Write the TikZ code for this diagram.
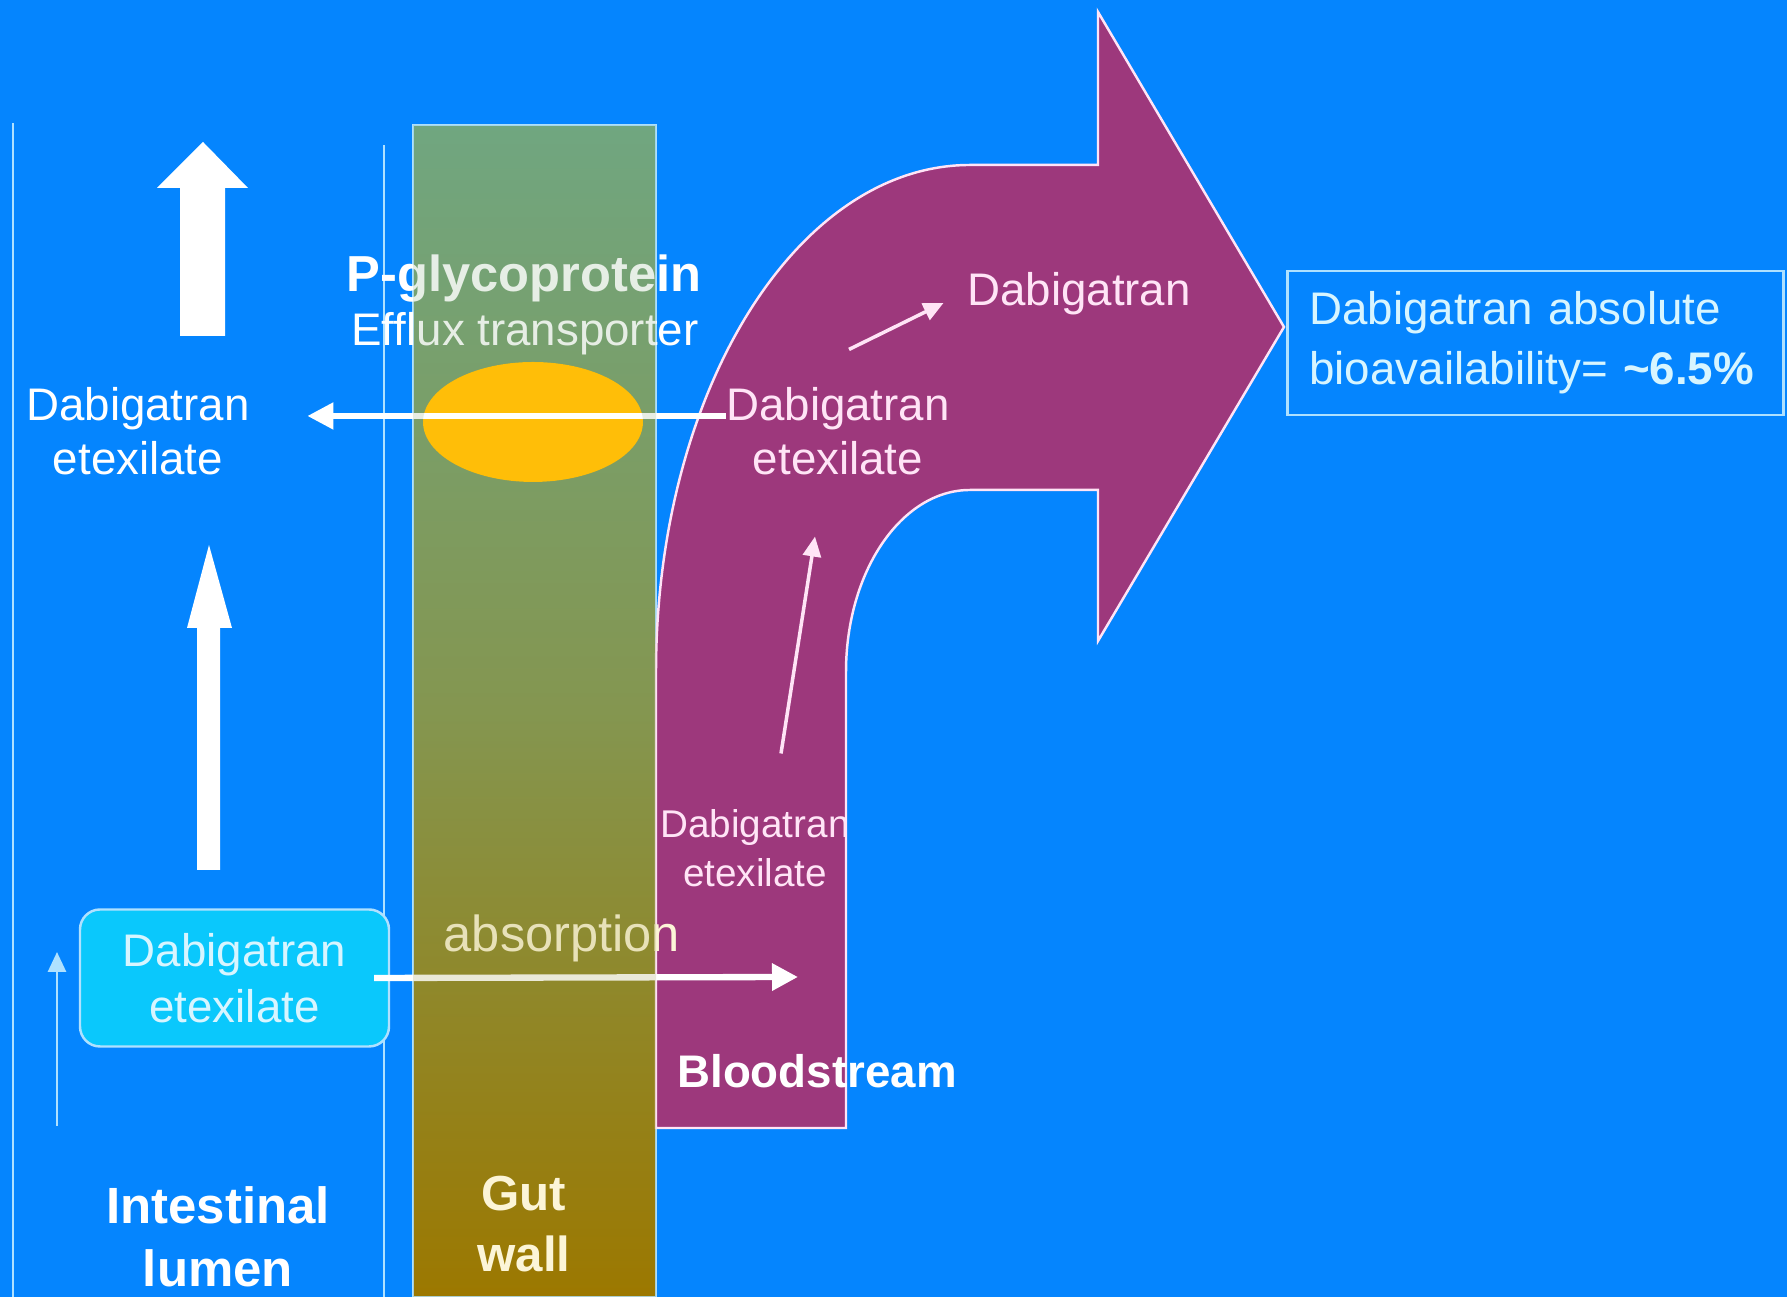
\documentclass[tikz,border=0pt]{standalone}
\usepackage{fontspec}
\setmainfont{Liberation Sans}
\usetikzlibrary{arrows.meta}

\definecolor{bgblue}{RGB}{5,133,254}
\definecolor{gutTop}{RGB}{112,166,128}
\definecolor{gutMid}{RGB}{132,150,80}
\definecolor{gutBot}{RGB}{156,120,0}
\definecolor{blood}{RGB}{157,56,124}
\definecolor{pgpOrange}{RGB}{255,190,8}
\definecolor{lumCyan}{RGB}{10,200,252}
\definecolor{edge}{RGB}{175,225,255}
\definecolor{pinkw}{RGB}{255,228,246}
\definecolor{lumtext}{RGB}{215,245,255}
\definecolor{cream}{RGB}{252,245,215}

\tikzset{
  lbl/.style={text=white, align=center, inner sep=0pt, font=\fontsize{13}{15.4}\selectfont},
  heading/.style={text=white, align=center, inner sep=0pt, font=\bfseries\fontsize{14.4}{17.8}\selectfont},
  small/.style={text=pinkw, align=center, inner sep=0pt, font=\fontsize{11}{14}\selectfont},
  thickarr/.style={white, line width=1.8pt, -{Triangle[length=2.6mm,width=2.6mm]}},
  thinarr/.style={pinkw, line width=1pt, -{Triangle[length=2mm,width=1.8mm]}}
}

\begin{document}
\begin{tikzpicture}
    % Background
    \fill[bgblue] (0,0) rectangle (17.87,12.97);
    \useasboundingbox (0,0) rectangle (17.87,12.97);

    % Lumen borders
    \draw[edge, line width=0.6pt] (0.13,0) -- (0.13,11.74);
    \draw[edge, line width=0.6pt] (3.84,0) -- (3.84,11.52);

    % Gut wall
    \draw[edge, line width=0.6pt, top color=gutTop, bottom color=gutBot, middle color=gutMid] (4.13,0) rectangle (6.56,11.72);

    % Bloodstream arrow
    \filldraw[fill=blood, draw=pinkw, line width=0.7pt] (6.56,1.69) -- (6.56,6.25)
        arc[start angle=180, end angle=90, x radius=3.14, y radius=5.07]
        -- (10.98,11.32) -- (10.98,12.85) -- (12.84,9.70) -- (10.98,6.56) -- (10.98,8.07) -- (9.70,8.07)
        arc[start angle=90, end angle=180, x radius=1.24, y radius=1.82]
        -- (8.46,1.69) -- cycle;

    % P-gp
    \fill[pgpOrange] (5.33,8.75) ellipse [x radius=1.10, y radius=0.60];

    % Big arrows in the lumen
    \fill[white] (1.80,9.61) -- (1.80,11.09) -- (1.57,11.09) -- (2.03,11.55) -- (2.48,11.09) -- (2.25,11.09) -- (2.25,9.61) -- cycle;
    \fill[white] (1.97,4.27) -- (1.97,6.69) -- (1.87,6.69) -- (2.09,7.52) -- (2.32,6.69) -- (2.20,6.69) -- (2.20,4.27) -- cycle;
    \draw[thinarr, edge, line width=0.8pt] (0.57,1.71) -- (0.57,3.45);

    % Labels
    \node[heading, font=\bfseries\fontsize{14.4}{17}\selectfont] (pgp) at (5.24,10.18) {P-glycoprotein};
    \node[lbl] (efflux) at (5.25,9.63) {Efflux transporter};
    \node[lbl] (dbeL) at (1.38,8.66) {Dabigatran\\etexilate};
    \node[lbl, text=pinkw] (dbeR) at (8.38,8.66) {Dabigatran\\etexilate};
    \node[lbl, text=pinkw] (dbg) at (10.79,10.03) {Dabigatran};
    \node[small] (dbeB) at (7.55,4.49) {Dabigatran\\etexilate};
    \node[lbl, font=\fontsize{13}{15.9}\selectfont, text=lumtext, fill=lumCyan, draw=edge, line width=0.7pt,
          rounded corners=0.2cm, minimum width=3.09cm, minimum height=1.37cm] (lumbox) at (2.345,3.19) {Dabigatran\\etexilate};
    \node[lbl, font=\fontsize{14.4}{17}\selectfont, text=cream] (absorb) at (5.62,3.59) {absorption};
    \node[heading, font=\bfseries\fontsize{13}{15}\selectfont] (blood) at (8.17,2.26) {Bloodstream};
    \node[heading, font=\bfseries\fontsize{14.5}{17.9}\selectfont] (lumen) at (2.18,0.60) {Intestinal\\lumen};
    \node[lbl, font=\fontsize{13}{17}\selectfont, text=lumtext, align=left, anchor=west, draw=edge, line width=0.8pt,
          inner xsep=0.22cm, text width=4.52cm, minimum height=1.44cm] (bio) at (12.86,9.54)
          {Dabigatran absolute\\bioavailability= \textbf{\textasciitilde6.5\%}};

    % Connectors
    \draw[thickarr, line width=1.5pt] ([yshift=1.5mm]dbeR.west) -- ([xshift=5.7mm,yshift=1.5mm]dbeL.east);
    \coordinate (abstip) at (7.98,3.20);
    \draw[thickarr] ([xshift=-1.6mm]lumbox.east) -- (abstip);
    \draw[thinarr] ([xshift=2.6mm,yshift=5.5mm]dbeB.north) -- ([xshift=-2.3mm,yshift=-6.1mm]dbeR.south);
    \draw[thinarr] ([xshift=1.1mm,yshift=3.7mm]dbeR.north) -- ([xshift=-2.3mm,yshift=-0.9mm]dbg.west);

    % Gut wall tint over what crosses it (not over the P-gp)
    \shade[even odd rule, top color=gutTop, bottom color=gutBot, middle color=gutMid, opacity=0.18]
        (4.13,0) rectangle (6.56,11.72) (5.33,8.75) ellipse [x radius=1.10, y radius=0.60];
    \node[heading, font=\bfseries\fontsize{14}{17.6}\selectfont, text=cream] (gut) at (5.24,0.73) {Gut\\wall};
\end{tikzpicture}
\end{document}
